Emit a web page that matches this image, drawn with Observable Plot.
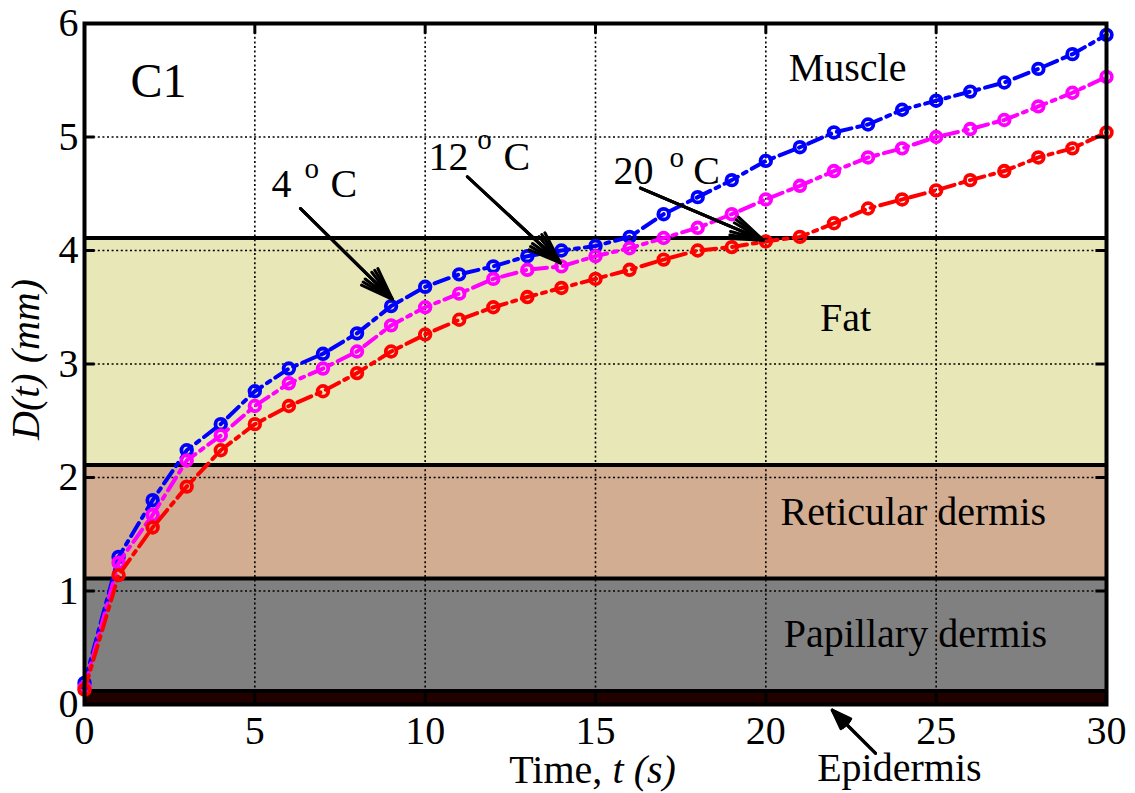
<!DOCTYPE html>
<html>
<head>
<meta charset="utf-8">
<script src="https://cdn.jsdelivr.net/npm/d3@7"></script>
<script src="https://cdn.jsdelivr.net/npm/@observablehq/plot@0.6"></script>
<style>
  body { margin: 0; background: #fff; }
  svg { display: block; }
</style>
</head>
<body>
<div id="chart"></div>
<script>
// Penetration depth D(t) of the freezing front over time, for three coolant temperatures
const times = [0,1,2,3,4,5,6,7,8,9,10,11,12,13,14,15,16,17,18,19,20,21,22,23,24,25,26,27,28,29,30];
const depth4C  = [0.19,1.30,1.80,2.24,2.47,2.76,2.96,3.09,3.27,3.51,3.68,3.79,3.86,3.95,4.00,4.04,4.12,4.32,4.47,4.62,4.79,4.91,5.04,5.11,5.24,5.32,5.40,5.48,5.60,5.73,5.90];
const depth12C = [0.15,1.25,1.67,2.15,2.37,2.63,2.83,2.96,3.11,3.34,3.50,3.62,3.75,3.83,3.86,3.95,4.02,4.11,4.20,4.32,4.45,4.57,4.70,4.82,4.90,5.00,5.07,5.15,5.27,5.39,5.53];
const depth20C = [0.13,1.14,1.56,1.92,2.24,2.47,2.63,2.76,2.92,3.11,3.26,3.39,3.50,3.59,3.67,3.75,3.83,3.92,4.00,4.03,4.08,4.12,4.24,4.37,4.45,4.53,4.62,4.70,4.82,4.90,5.04];

// Tissue layers (depth in mm)
const layerNames   = ["Epidermis", "Papillary dermis", "Reticular dermis", "Fat", "Muscle"];
const layerBottoms = [0, 0.12, 1.11, 2.11, 4.11];
const layerTops    = [0.12, 1.11, 2.11, 4.11, 6];
const layerFills   = ["#230000", "#808080", "#d2ad92", "#e8e7b8", "#ffffff"];

const xTicks = [0, 5, 10, 15, 20, 25, 30];
const yTicks = [0, 1, 2, 3, 4, 5, 6];
const xInner = [5, 10, 15, 20, 25];
const yInner = [1, 2, 3, 4, 5];

const seriesNames  = ["4 °C", "12 °C", "20 °C"];
const seriesDepths = [depth4C, depth12C, depth20C];
const seriesColors = ["#0000ff", "#ff00ff", "#ff0000"];

const serif = "Liberation Serif";

// Series rows built from the arrays above
const rows = seriesNames.map((name, i) => times.map((t, k) => ({series: name, t, d: seriesDepths[i][k]})));
const layers = layerNames.map((name, i) => ({name, y1: layerBottoms[i], y2: layerTops[i], fill: layerFills[i]}));

// Temperature callouts: number, superscript "o", unit, and arrow
const callouts = [
  {num: "4",  nx: 5.49,  ny: 4.47, ox: 6.46,  oy: 4.64, cx: 7.22,  x1: 6.34,  y1: 4.37, x2: 9.04,  y2: 3.57},
  {num: "12", nx: 10.10, ny: 4.71, ox: 11.53, oy: 4.89, cx: 12.30, x1: 11.24, y1: 4.65, x2: 13.97, y2: 3.89},
  {num: "20", nx: 15.53, ny: 4.59, ox: 17.17, oy: 4.74, cx: 17.87, x1: 16.32, y1: 4.55, x2: 19.93, y2: 4.09}
];
const epidermisArrow = [{x1: 23.22, y1: -0.43, x2: 21.95, y2: -0.05}];

// Region labels
const regionLabels = [
  {text: "Muscle",           x: 22.40, y: 5.49},
  {text: "Fat",              x: 22.34, y: 3.29},
  {text: "Reticular dermis", x: 24.33, y: 1.58},
  {text: "Papillary dermis", x: 24.39, y: 0.51},
  {text: "Epidermis",        x: 23.92, y: -0.67}
];

const marks = [];

// Tissue bands
layers.forEach(l => marks.push(Plot.rectY([l], {x1: 0, x2: 30, y1: "y1", y2: "y2", fill: l.fill})));

// Dotted grid
marks.push(Plot.gridX(xInner, {stroke: "black", strokeOpacity: 1, strokeWidth: 1.6, strokeDasharray: "2,2.6"}));
marks.push(Plot.gridY(yInner, {stroke: "black", strokeOpacity: 1, strokeWidth: 1.6, strokeDasharray: "2,2.6"}));

// Layer boundaries
marks.push(Plot.ruleY(layerBottoms.slice(1), {x1: 0, x2: 30, stroke: "black", strokeWidth: 4}));

// Series: dash-dot lines with circle markers
rows.forEach((r, i) => {
  marks.push(Plot.line(r, {x: "t", y: "d", stroke: seriesColors[i], strokeWidth: 4, strokeDasharray: "15,6,4,6"}));
  marks.push(Plot.dot(r, {x: "t", y: "d", stroke: seriesColors[i], fill: "none", r: 5.3, strokeWidth: 3.8}));
});

// Arrows (layered head angles give a solid-looking head)
const arrowData = callouts.concat(epidermisArrow);
[40, 28, 16].forEach(a => {
  marks.push(Plot.arrow(arrowData, {x1: "x1", y1: "y1", x2: "x2", y2: "y2", stroke: "black", strokeWidth: 3, headLength: 17, headAngle: a}));
});

// Callout texts
marks.push(Plot.text(callouts, {x: "nx", y: "ny", text: "num", textAnchor: "start", lineAnchor: "bottom", fontSize: 40, fontFamily: serif, fill: "black"}));
marks.push(Plot.text(callouts, {x: "ox", y: "oy", text: () => "o", textAnchor: "start", lineAnchor: "bottom", fontSize: 29, fontFamily: serif, fill: "black"}));
marks.push(Plot.text(callouts, {x: "cx", y: "ny", text: () => "C", textAnchor: "start", lineAnchor: "bottom", fontSize: 40, fontFamily: serif, fill: "black"}));

// Panel tag and region labels
marks.push(Plot.text(["C1"], {x: 2.17, y: 5.35, text: d => d, textAnchor: "middle", lineAnchor: "bottom", fontSize: 48, fontFamily: serif, fill: "black"}));
marks.push(Plot.text(regionLabels, {x: "x", y: "y", text: "text", textAnchor: "middle", lineAnchor: "bottom", fontSize: 40, fontFamily: serif, fill: "black"}));

// Axis titles
marks.push(Plot.text(["Time,"], {x: 15.20, y: -0.69, text: d => d, textAnchor: "end", lineAnchor: "bottom", fontSize: 40, fontFamily: serif, fill: "black"}));
marks.push(Plot.text(["t (s)"], {x: 15.50, y: -0.69, text: d => d, textAnchor: "start", lineAnchor: "bottom", fontSize: 40, fontFamily: serif, fontStyle: "italic", fill: "black"}));
marks.push(Plot.text(["D(t) (mm)"], {x: -1.35, y: 3.04, text: d => d, rotate: -90, textAnchor: "middle", lineAnchor: "bottom", fontSize: 40, fontFamily: serif, fontStyle: "italic", fill: "black"}));

// Box and inward ticks
marks.push(Plot.frame({stroke: "black", strokeWidth: 4}));
marks.push(Plot.ruleX(xInner, {x: d => d, y1: 0, y2: 0.095, stroke: "black", strokeWidth: 3}));
marks.push(Plot.ruleX(xInner, {x: d => d, y1: 5.905, y2: 6, stroke: "black", strokeWidth: 3}));
marks.push(Plot.ruleY(yInner, {y: d => d, x1: 0, x2: 0.31, stroke: "black", strokeWidth: 3}));
marks.push(Plot.ruleY(yInner, {y: d => d, x1: 29.69, x2: 30, stroke: "black", strokeWidth: 3}));

// Tick labels
marks.push(Plot.axisX(xTicks, {tickSize: 0, tickPadding: 11, tickFormat: d => String(d), fontSize: 40, fontFamily: serif, label: null, fill: "black"}));
marks.push(Plot.axisY(yTicks, {tickSize: 0, tickPadding: 6, tickFormat: d => String(d), fontSize: 40, fontFamily: serif, label: null, fill: "black"}));

const chart = Plot.plot({
  width: 1135,
  height: 793,
  marginLeft: 84,
  marginRight: 29,
  marginTop: 23,
  marginBottom: 89,
  x: {domain: [0, 30]},
  y: {domain: [0, 6]},
  style: {fontFamily: serif, fontSize: "40px", color: "black", background: "white", overflow: "visible"},
  marks
});

// Serif face throughout, including the axis tick labels
chart.setAttribute("font-family", serif);
chart.querySelectorAll("g[aria-label$='tick label']").forEach(g => {
  g.setAttribute("font-family", serif);
  g.setAttribute("font-variant", "normal");
});
document.getElementById("chart").appendChild(chart);
</script>
</body>
</html>
